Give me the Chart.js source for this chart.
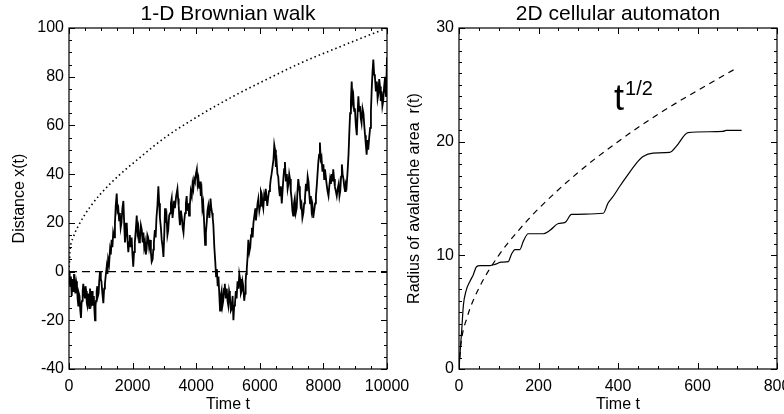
<!DOCTYPE html>
<html>
<head>
<meta charset="utf-8">
<script src="https://cdn.jsdelivr.net/npm/chart.js@4.4.0/dist/chart.umd.min.js"></script>
<style>
  html, body { margin: 0; padding: 0; background: #fff; }
  #wrap { position: relative; width: 784px; height: 414px; overflow: hidden; }
  #walk { position: absolute; left: 0; top: 0; }
  #ca { position: absolute; left: 392px; top: 0; }
</style>
</head>
<body>
<div id="wrap">
  <canvas id="walk" width="450" height="414"></canvas>
  <canvas id="ca" width="392" height="414"></canvas>
</div>
<script>
// 1-D random walk as [t, x(t)] pairs
const walk = [
  [0,0],[20,-4],[40,-6],[60,-2],[85,-10],[100,-5],[120,-3],[140,-8],[157,-1],[180,-6],[200,-9],[225,-4],[250,-6],
  [270,-11],[292,-14],[310,-9],[330,-10],[355,-16],[377,-19],[395,-13],[410,-12],[430,-8],[450,-5],[475,-9],[500,-11],
  [520,-6],[540,-8],[560,-13],[576,-14],[600,-9],[620,-11],[640,-15],[660,-7],[680,-10],[700,-12],[725,-8],[745,-14],
  [765,-11],[780,-10],[800,-16],[818,-20],[835,-14],[850,-12],[870,-8],[890,-6],[910,-10],[930,-9],[950,-4],[975,0],
  [1000,-3],[1020,-4],[1050,-9],[1080,-13],[1105,-7],[1130,-5],[1160,-1],[1185,2],[1210,-1],[1230,5],[1260,3],[1290,9],
  [1315,7],[1340,13],[1365,10],[1390,16],[1420,14],[1445,20],[1470,27],[1500,32],[1525,25],[1550,26],[1575,21],[1600,24],
  [1625,18],[1650,20],[1680,26],[1710,29],[1735,20],[1760,12],[1790,17],[1815,20],[1840,13],[1865,8],[1890,12],[1910,15],
  [1940,10],[1970,14],[1995,7],[2020,2],[2045,8],[2070,12],[2100,17],[2130,23],[2155,16],[2180,18],[2205,12],[2230,13],
  [2260,19],[2290,17],[2315,12],[2340,16],[2365,10],[2390,12],[2415,7],[2440,9],[2465,15],[2490,14],[2520,10],[2550,13],
  [2575,8],[2600,4],[2630,5],[2650,9],[2670,12],[2700,17],[2725,14],[2750,22],[2780,27],[2810,35],[2835,28],[2860,22],
  [2890,18],[2915,13],[2945,10],[2970,6],[2995,15],[3020,26],[3045,20],[3070,22],[3095,15],[3120,17],[3150,23],[3180,24],
  [3205,28],[3230,30],[3255,22],[3280,25],[3305,29],[3330,26],[3370,31],[3410,34],[3430,30],[3450,27],[3470,22],[3490,19],
  [3520,25],[3550,22],[3575,18],[3600,16],[3625,21],[3650,24],[3675,28],[3700,31],[3725,25],[3750,28],[3775,23],[3800,27],
  [3830,33],[3860,31],[3885,36],[3910,34],[3935,38],[3960,37],[3990,40],[4020,42],[4045,36],[4070,38],[4095,34],[4120,37],
  [4145,31],[4170,33],[4195,26],[4220,28],[4250,20],[4280,11],[4305,16],[4330,20],[4355,25],[4380,27],[4415,22],[4450,30],
  [4475,26],[4500,24],[4520,22],[4540,19],[4570,10],[4600,4],[4625,-2],[4650,1],[4675,-6],[4700,-2],[4725,-9],[4750,-16],
  [4775,-10],[4800,-8],[4825,-14],[4850,-12],[4875,-7],[4900,-5],[4930,-11],[4960,-7],[4985,-12],[5010,-14],[5035,-8],
  [5060,-10],[5090,-16],[5120,-15],[5145,-10],[5170,-20],[5195,-14],[5220,-13],[5245,-8],[5270,-11],[5300,-4],[5330,-7],
  [5355,-1],[5380,-3],[5405,-9],[5430,-8],[5455,-4],[5480,-6],[5510,-12],[5535,-9],[5555,-4],[5570,-1],[5590,1],[5615,6],
  [5640,13],[5670,8],[5700,10],[5725,15],[5750,18],[5775,14],[5800,20],[5830,23],[5860,26],[5880,21],[5900,24],[5930,28],
  [5955,30],[5985,25],[6010,27],[6035,33],[6060,32],[6085,28],[6110,26],[6135,31],[6160,29],[6185,34],[6210,31],[6235,27],
  [6260,30],[6290,33],[6320,35],[6345,38],[6370,40],[6400,43],[6430,46],[6455,52],[6480,50],[6505,43],[6530,45],[6555,40],
  [6580,39],[6605,34],[6630,31],[6660,35],[6690,28],[6715,33],[6740,38],[6765,42],[6790,45],[6820,37],[6850,40],[6875,34],
  [6900,36],[6925,40],[6950,38],[6975,33],[7000,30],[7025,25],[7050,23],[7075,28],[7100,30],[7130,24],[7160,26],[7185,33],
  [7210,38],[7235,35],[7260,32],[7285,27],[7310,28],[7340,22],[7370,24],[7395,28],[7420,30],[7450,36],[7480,33],[7505,39],
  [7530,37],[7555,32],[7580,28],[7605,31],[7630,25],[7655,27],[7680,22],[7710,25],[7740,28],[7765,31],[7790,35],[7815,40],
  [7840,45],[7865,48],[7890,53],[7915,46],[7940,47],[7970,41],[8000,44],[8025,38],[8050,42],[8075,39],[8100,36],[8130,33],
  [8160,31],[8185,35],[8210,38],[8235,36],[8260,40],[8285,37],[8310,42],[8335,38],[8360,35],[8390,33],[8420,31],[8450,34],
  [8480,36],[8505,31],[8530,33],[8555,39],[8580,44],[8605,40],[8630,38],[8655,35],[8680,33],[8705,36],[8730,35],[8760,41],
  [8790,48],[8815,57],[8840,65],[8865,70],[8890,78],[8915,70],[8940,72],[8965,66],[8990,67],[9020,60],[9050,56],[9075,65],
  [9100,72],[9125,66],[9150,68],[9175,63],[9200,61],[9230,67],[9260,65],[9285,60],[9310,56],[9335,52],[9360,48],[9385,54],
  [9410,50],[9440,55],[9470,59],[9495,66],[9520,75],[9545,82],[9570,87],[9595,81],[9620,80],[9650,74],[9680,78],[9705,71],
  [9730,73],[9755,79],[9780,76],[9805,70],[9830,74],[9855,68],[9880,70],[9910,76],[9940,80],[9955,74],[9970,72],[9985,80],
  [10000,88]
];
// reference growth curve on the left panel
const rootT = [0, 30, 135, 346, 660, 1290, 2340, 3070, 4000, 5170, 6000, 7265, 8500, 9885, 10000];
const rootX = [0, 8, 14, 20, 26.5, 36, 48, 55.5, 63.3, 72, 77.5, 85.5, 92.2, 99.4, 100];
const zeroT = [0, 10000];
const zeroX = [0, 0];

// avalanche radius from the cellular automaton
const caT = [0, 2, 7, 11, 18, 28, 36, 44, 53, 78, 90, 107, 124, 132, 141, 153, 162, 174, 212, 229,
  250, 267, 283, 363, 375, 388, 405, 421, 446, 463, 488, 530, 547, 568, 576, 664, 672, 711];
const caR = [0, 1.1, 3.5, 5.6, 6.9, 7.75, 8.3, 9.0, 9.1, 9.1, 9.2, 9.4, 9.45, 10.1, 10.5, 10.5, 11.25, 11.9, 11.9, 12.2,
  12.8, 12.9, 13.6, 13.7, 14.6, 15.2, 16.1, 16.9, 18.1, 18.7, 19.0, 19.05, 19.6, 20.6, 20.8, 20.9, 21.0, 21.0];
const sqrtT = [0, 5, 20, 50, 100, 150, 200, 300, 400, 500, 600, 700];
const sqrtR = [0, 2.2, 4.5, 7.1, 10, 12.2, 14.1, 17.3, 20, 22.4, 24.5, 26.5];

const FONT = "'Liberation Sans', Arial, Helvetica, sans-serif";
const pts = (xs, ys) => xs.map((x, i) => ({ x, y: ys[i] }));

// box around the plot with inward major/minor ticks on all four sides, plus panel title and notes
const frame = {
  id: 'frame',
  afterDraw(chart, args, opts) {
    const { ctx, chartArea: a, scales: { x, y } } = chart;
    ctx.save();
    ctx.strokeStyle = '#000';
    ctx.lineWidth = 1.2;
    ctx.strokeRect(a.left, a.top, a.right - a.left, a.bottom - a.top);
    const mark = (scale, step, len) => {
      for (let v = scale.min; v <= scale.max + 1e-9; v += step) {
        const p = Math.round(scale.getPixelForValue(v)) + 0.5;
        ctx.beginPath();
        if (scale.axis === 'x') {
          ctx.moveTo(p, a.bottom); ctx.lineTo(p, a.bottom - len);
          ctx.moveTo(p, a.top); ctx.lineTo(p, a.top + len);
        } else {
          ctx.moveTo(a.left, p); ctx.lineTo(a.left + len, p);
          ctx.moveTo(a.right, p); ctx.lineTo(a.right - len, p);
        }
        ctx.stroke();
      }
    };
    ctx.lineWidth = 1;
    mark(x, opts.xMinor, 3);
    mark(y, opts.yMinor, 3);
    mark(x, x.options.ticks.stepSize, 6);
    mark(y, y.options.ticks.stepSize, 6);

    ctx.fillStyle = '#000';
    ctx.font = '21px ' + FONT;
    ctx.textAlign = 'center';
    ctx.textBaseline = 'middle';
    ctx.fillText(opts.title, (a.left + a.right) / 2, 14);

    if (opts.note) {
      const px = x.getPixelForValue(opts.note.x);
      const py = y.getPixelForValue(opts.note.y);
      ctx.textAlign = 'left';
      ctx.textBaseline = 'alphabetic';
      ctx.font = '36px ' + FONT;
      ctx.fillText(opts.note.base, px, py);
      const w = ctx.measureText(opts.note.base).width;
      ctx.font = '20px ' + FONT;
      ctx.fillText(opts.note.sup, px + w + 1, py - 15);
    }
    ctx.restore();
  }
};

function axis(title, min, max, step, titlePad, isX, size) {
  return {
    type: 'linear',
    min, max,
    grid: { display: false, drawTicks: false },
    border: { display: false },
    ticks: {
      stepSize: step,
      autoSkip: false,
      maxRotation: 0,
      padding: isX ? 8 : 5,
      color: '#000',
      font: { family: FONT, size: 16 },
      callback: v => String(v)
    },
    title: {
      display: true,
      text: title,
      color: '#000',
      font: { family: FONT, size: 16 },
      padding: titlePad
    },
    afterFit(scale) {
      if (isX) {
        scale.height = size;
        scale.paddingLeft = 0;
        scale.paddingRight = 0;
      } else {
        scale.width = size;
        scale.paddingTop = 0;
        scale.paddingBottom = 0;
      }
    }
  };
}

const common = {
  responsive: false,
  animation: false,
  events: [],
  plugins: { legend: { display: false }, tooltip: { enabled: false } }
};

new Chart(document.getElementById('walk'), {
  type: 'line',
  data: {
    datasets: [
      { data: walk.map(([x, y]) => ({ x, y })), borderColor: '#000', borderWidth: 1.8, pointRadius: 0, tension: 0 },
      { data: pts(rootT, rootX), borderColor: '#000', borderWidth: 1.6, borderDash: [1.5, 3], pointRadius: 0, cubicInterpolationMode: 'monotone' },
      { data: pts(zeroT, zeroX), borderColor: '#000', borderWidth: 1.2, borderDash: [8, 5], pointRadius: 0 }
    ]
  },
  options: {
    ...common,
    layout: { padding: { left: 0, top: 28, right: 63, bottom: 0 } },
    scales: {
      x: axis('Time t', 0, 10000, 2000, { top: 0, bottom: 0 }, true, 45),
      y: axis('Distance x(t)', -40, 100, 20, { top: 10, bottom: 0 }, false, 69)
    },
    plugins: { ...common.plugins, frame: { title: '1-D Brownian walk', xMinor: 500, yMinor: 5 } }
  },
  plugins: [frame]
});

new Chart(document.getElementById('ca'), {
  type: 'line',
  data: {
    datasets: [
      { data: pts(caT, caR), borderColor: '#000', borderWidth: 1.2, pointRadius: 0, cubicInterpolationMode: 'monotone' },
      { data: pts(sqrtT, sqrtR), borderColor: '#000', borderWidth: 1.2, borderDash: [6, 5], pointRadius: 0, cubicInterpolationMode: 'monotone' }
    ]
  },
  options: {
    ...common,
    layout: { padding: { left: 0, top: 28, right: 7, bottom: 0 } },
    scales: {
      x: axis('Time t', 0, 800, 200, { top: 0, bottom: 0 }, true, 45),
      y: axis('Radius of avalanche area  r(t)', 0, 30, 10, { top: 13, bottom: 0 }, false, 67)
    },
    plugins: {
      ...common.plugins,
      frame: {
        title: '2D cellular automaton', xMinor: 50, yMinor: 1,
        note: { x: 390, y: 22.8, base: 't', sup: '1/2' }
      }
    }
  },
  plugins: [frame]
});
</script>
</body>
</html>
